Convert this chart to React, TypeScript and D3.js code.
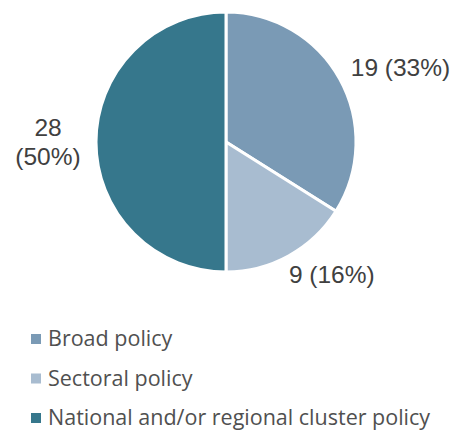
import React from "react";
import * as d3 from "d3";

const categories = ["Broad policy", "Sectoral policy", "National and/or regional cluster policy"];
const values = [19, 9, 28];
const labelLines = [["19 (33%)"], ["9 (16%)"], ["28", "(50%)"]];
const colors = ["#7a9ab5", "#a8bcd0", "#36778c"];

const W = 460;
const H = 430;
const cx = 226;
const cy = 142;
const R = 130;

export default function App() {
  const pie = d3.pie<number>().sort(null).value((d) => d)(values);
  const arc = d3.arc<d3.PieArcDatum<number>>().innerRadius(0).outerRadius(R);
  const labelArc = d3.arc<d3.PieArcDatum<number>>().innerRadius(R).outerRadius(R);
  const labelPlace = [
    { anchor: "start", dx: 11, dy: -3 },
    { anchor: "start", dx: 0, dy: 27 },
    { anchor: "middle", dx: -48, dy: -6 },
  ];
  const font = "'Liberation Sans', Arial, sans-serif";
  const legendFont = "'Open Sans', 'Liberation Sans', sans-serif";
  return (
    <svg width={W} height={H} style={{ position: "absolute", left: 0, top: 0 }}>
      <rect width={W} height={H} fill="#fff" />
      <g transform={`translate(${cx},${cy})`}>
        {pie.map((p, i) => (
          <path key={i} d={arc(p) || ""} fill={colors[i]} stroke="#fff" strokeWidth={3} strokeLinejoin="miter" />
        ))}
        {pie.map((p, i) => {
          const [x, y] = labelArc.centroid(p);
          const pl = labelPlace[i];
          return (
            <text
              key={i}
              x={x + pl.dx}
              y={y + pl.dy}
              textAnchor={pl.anchor as any}
              fontFamily={font}
              fontSize={24.5}
              fill="#404040"
            >
              {labelLines[i].map((ln, j) => (
                <tspan key={j} x={x + pl.dx} dy={j === 0 ? 0 : 29}>
                  {ln}
                </tspan>
              ))}
            </text>
          );
        })}
      </g>
      <g>
        {categories.map((c, i) => (
          <g key={i} transform={`translate(31,${346 + i * 39.5})`}>
            <rect x={0} y={-12} width={10} height={10} fill={colors[i]} />
            <text x={17} y={0} fontFamily={legendFont} fontSize={21.5} fill="#505050">
              {c}
            </text>
          </g>
        ))}
      </g>
    </svg>
  );
}
